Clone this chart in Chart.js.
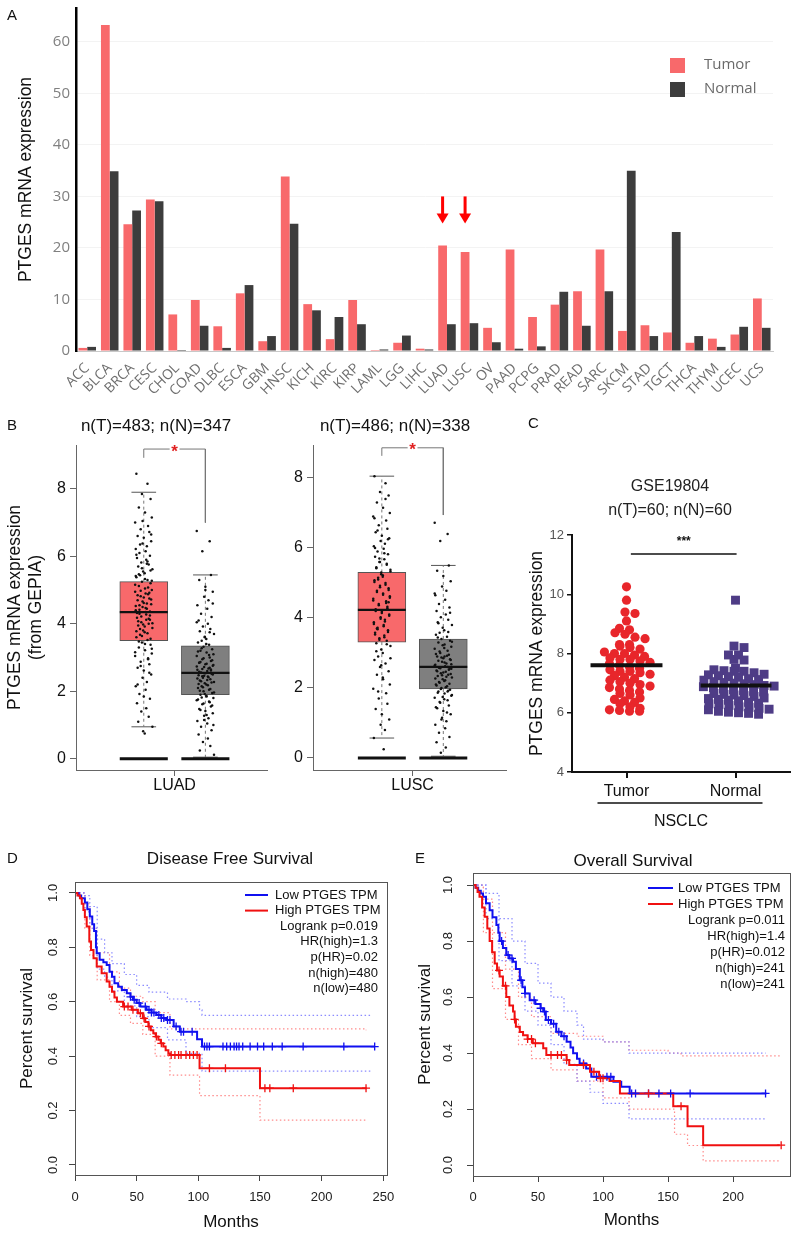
<!DOCTYPE html>
<html>
<head>
<meta charset="utf-8">
<title>PTGES expression</title>
<script src="https://cdn.jsdelivr.net/npm/chart.js@4.4.1/dist/chart.umd.min.js"></script>
<style>
  body { margin:0; width:800px; height:1235px; overflow:hidden; background:#fff; position:relative; font-family:"Liberation Sans", Arial, sans-serif; }
  canvas { position:absolute; }
  .tag { position:absolute; font-size:15px; color:#111; line-height:18px; }
</style>
</head>
<body>
<canvas id="chartA" width="800" height="410" style="left:0;top:0"></canvas>
<canvas id="chartB1" width="312" height="410" style="left:0;top:405px"></canvas>
<canvas id="chartB2" width="250" height="410" style="left:270px;top:405px"></canvas>
<canvas id="chartC" width="300" height="373" style="left:520px;top:462px"></canvas>
<canvas id="chartD" width="460" height="400" style="left:0;top:835px"></canvas>
<canvas id="chartE" width="446" height="400" style="left:410px;top:835px"></canvas>

<div class="tag" style="left:7px;top:6px">A</div>
<div class="tag" style="left:7px;top:416px">B</div>
<div class="tag" style="left:528px;top:414px">C</div>
<div class="tag" style="left:7px;top:849px">D</div>
<div class="tag" style="left:415px;top:849px">E</div>

<script>
// panel A - GEPIA bar plot
const cancers = ['ACC','BLCA','BRCA','CESC','CHOL','COAD','DLBC','ESCA','GBM','HNSC','KICH','KIRC','KIRP','LAML','LGG','LIHC','LUAD','LUSC','OV','PAAD','PCPG','PRAD','READ','SARC','SKCM','STAD','TGCT','THCA','THYM','UCEC','UCS'];
const tumorTPM  = [0.6,63.3,24.6,29.4,7.1,9.9,4.8,11.2,1.9,33.9,9.1,2.3,9.9,0.2,1.6,0.45,20.5,19.2,4.5,19.7,6.6,9.0,11.6,19.7,3.9,5.0,3.6,1.6,2.4,3.2,10.2];
const normalTPM = [0.8,34.9,27.3,29.1,0.2,4.9,0.6,12.8,2.9,24.7,7.9,6.6,5.2,0.3,3.0,0.3,5.2,5.4,1.7,0.45,0.9,11.5,4.9,11.6,35.0,2.9,23.1,2.9,0.8,4.7,4.5];
const yTicksA = [0,10,20,30,40,50,60];
const arrowCats = ['LUAD','LUSC'];

// panel B - boxplots (low whisker, Q1, median, Q3, high whisker)
const luadTumorBox  = [0.95, 3.5, 4.35, 5.25, 7.9];
const luadNormalBox = [0.05, 1.9, 2.55, 3.35, 5.45];
const luscTumorBox  = [0.57, 3.31, 4.23, 5.3, 8.05];
const luscNormalBox = [0.05, 1.97, 2.6, 3.4, 5.5];
const luadTumorPts = [8.45,8.15,7.85,7.7,7.45,7.3,7.15,7.0,6.9,6.8,6.72,6.6,6.55,6.45,6.38,6.3,6.22,6.15,6.1,6.02,5.95,5.9,5.82,5.76,5.7,5.62,5.55,5.5,5.44,5.38,5.3,5.25,5.2,5.12,5.05,5.0,4.95,4.88,4.82,4.75,4.7,4.62,4.58,4.5,4.45,4.4,4.35,4.3,4.25,4.18,4.12,4.05,4.0,3.95,3.88,3.8,3.75,3.68,3.6,3.52,3.45,3.38,3.3,3.22,3.12,3.05,2.95,2.88,2.8,2.7,2.62,2.5,2.4,2.28,2.15,2.05,1.92,1.78,1.65,1.5,1.4,1.25,1.1,0.95,0.82,0.75,
  6.35,6.05,5.85,5.65,5.58,5.47,5.33,5.28,5.16,5.08,4.98,4.92,4.85,4.78,4.72,4.66,4.6,4.53,4.47,4.42,4.37,4.32,4.28,4.22,4.15,4.08,4.02,3.98,3.92,3.85,3.78,3.72,3.64,3.56,3.48,3.4,3.26,3.16,2.98,2.75,2.55,2.2,1.85,6.65,7.05,5.78,5.42,4.9,4.55,4.12];
const luadNormalPts = [6.75,6.45,6.15,5.45,5.3,5.1,4.95,4.8,4.7,4.55,4.45,4.3,4.2,4.1,4.0,3.92,3.85,3.78,3.7,3.62,3.55,3.5,3.45,3.38,3.32,3.25,3.2,3.15,3.1,3.05,3.0,2.95,2.9,2.85,2.8,2.76,2.72,2.68,2.64,2.6,2.56,2.52,2.48,2.44,2.4,2.36,2.32,2.28,2.24,2.2,2.15,2.1,2.05,2.0,1.95,1.9,1.85,1.8,1.74,1.68,1.62,1.55,1.48,1.42,1.35,1.28,1.2,1.12,1.05,0.95,0.85,0.72,0.6,0.5,0.38,0.25,0.12,
  3.6,3.4,3.28,3.18,3.08,2.98,2.92,2.87,2.82,2.78,2.74,2.7,2.66,2.62,2.58,2.54,2.5,2.46,2.42,2.38,2.34,2.3,2.26,2.22,2.18,2.12,2.07,2.02,1.97,1.92,1.87,1.82,1.76,1.7,1.64,1.58,1.45,1.3,1.0,4.05,3.75,2.45,2.65,2.85,5.0,4.6,1.15];
const luscTumorPts = [8.05,7.85,7.6,7.5,7.3,7.15,7.0,6.9,6.78,6.65,6.55,6.45,6.35,6.28,6.2,6.12,6.05,5.98,5.9,5.82,5.75,5.68,5.6,5.52,5.45,5.38,5.3,5.22,5.15,5.08,5.0,4.92,4.85,4.78,4.7,4.62,4.55,4.48,4.4,4.32,4.25,4.18,4.1,4.02,3.95,3.88,3.8,3.72,3.65,3.58,3.5,3.42,3.35,3.28,3.2,3.1,3.0,2.9,2.8,2.7,2.6,2.48,2.38,2.25,2.1,1.98,1.85,1.7,1.55,1.4,1.25,1.1,0.95,0.8,0.57,0.25,
  6.5,6.25,6.0,5.85,5.7,5.55,5.42,5.33,5.25,5.18,5.1,5.03,4.95,4.88,4.8,4.74,4.66,4.58,4.5,4.43,4.36,4.28,4.2,4.14,4.06,3.98,3.9,3.83,3.76,3.68,3.6,3.53,3.45,3.38,3.25,3.05,2.85,2.65,2.3,1.9,6.85,7.4,5.6,4.45,3.7];
const luscNormalPts = [6.72,6.4,6.2,5.5,5.35,5.2,5.05,4.9,4.78,4.65,4.52,4.4,4.3,4.2,4.1,4.02,3.95,3.88,3.8,3.72,3.65,3.58,3.52,3.46,3.4,3.35,3.3,3.24,3.18,3.12,3.06,3.0,2.95,2.9,2.85,2.8,2.75,2.7,2.66,2.62,2.58,2.54,2.5,2.46,2.42,2.38,2.34,2.3,2.25,2.2,2.15,2.1,2.05,2.0,1.95,1.9,1.84,1.78,1.72,1.65,1.58,1.5,1.42,1.34,1.25,1.15,1.05,0.95,0.85,0.72,0.6,0.45,0.3,0.15,
  3.6,3.44,3.32,3.22,3.14,3.04,2.97,2.92,2.87,2.82,2.78,2.73,2.68,2.64,2.6,2.56,2.52,2.48,2.44,2.4,2.36,2.32,2.27,2.22,2.17,2.12,2.07,2.02,1.97,1.92,1.86,1.8,1.74,1.68,1.6,1.45,1.3,1.1,4.15,3.85,2.9,2.55,4.7,1.9];
const gepiaZero = 0;
const bTicks = [0,2,4,6,8];
const jitterB = [-0.12,0.06,-0.03,0.11,-0.08,0.02,0.13,-0.14,0.07,-0.05,0.09,-0.10,0.00,0.12,-0.02,0.05,-0.13,0.03,-0.07,0.10,-0.11,0.04,-0.04,0.08,-0.09,0.14,-0.01,0.015,-0.06];

// panel C - GSE19804
const cGroups = ['Tumor','Normal'];
const cTumor = [10.25,9.8,9.4,9.35,9.1,8.85,8.8,8.7,8.65,8.55,8.5,8.3,8.3,8.25,8.2,8.15,8.05,8.0,8.0,7.95,7.9,7.85,7.8,7.8,7.75,7.7,7.65,7.6,7.55,7.5,7.45,7.4,7.4,7.35,7.3,7.25,7.2,7.15,7.1,7.05,7.0,6.95,6.9,6.85,6.8,6.75,6.7,6.65,6.6,6.5,6.45,6.4,6.35,6.3,6.2,6.15,6.1,6.08,6.05,6.05];
const cNormal = [9.8,8.25,8.2,7.95,7.95,7.8,7.78,7.5,7.45,7.42,7.4,7.4,7.35,7.3,7.28,7.25,7.22,7.2,7.15,7.12,7.1,7.05,7.02,7.0,6.98,6.95,6.92,6.9,6.88,6.85,6.8,6.78,6.75,6.72,6.7,6.65,6.62,6.6,6.58,6.55,6.5,6.48,6.45,6.42,6.4,6.35,6.32,6.3,6.28,6.25,6.2,6.18,6.15,6.12,6.1,6.05,6.02,6.0,5.98,5.95];
const cMeans = [7.6, 6.92];
const cTicks = [4,6,8,10,12];
const cSig = [1.04, 2.01, 11.36];

// panels D/E - Kaplan-Meier (month, survival)
const kmGroups = ['Low PTGES TPM','High PTGES TPM'];
const dfsLow = [[0,1],[3,0.99],[5,0.98],[8,0.965],[10,0.94],[12,0.913],[14,0.885],[15.5,0.86],[17,0.8],[17.6,0.778],[20,0.754],[23,0.745],[25.7,0.735],[28,0.71],[30,0.692],[32,0.668],[35,0.655],[38,0.643],[42,0.631],[45,0.618],[47,0.607],[50,0.595],[53,0.582],[58,0.57],[62,0.56],[66,0.551],[70,0.54],[74,0.533],[80,0.509],[85,0.49],[99,0.462],[103,0.435],[243,0.435]];
const dfsHigh = [[0,1],[2,0.99],[4,0.98],[5.5,0.96],[6.8,0.937],[8,0.91],[9.5,0.876],[11.6,0.821],[13,0.79],[15,0.76],[17.6,0.729],[21.6,0.705],[25.7,0.674],[28,0.655],[30,0.637],[32,0.615],[34,0.6],[39,0.582],[46,0.57],[51,0.558],[55,0.539],[57,0.525],[59.5,0.509],[61.5,0.495],[63.5,0.484],[65.5,0.472],[67.6,0.46],[69.5,0.447],[71.6,0.435],[73.5,0.422],[75.7,0.41],[77,0.404],[101,0.355],[150,0.282],[236.5,0.282]];
const dfsLowUp = [[0,1],[8,0.99],[12,0.95],[18,0.83],[24,0.78],[30,0.74],[40,0.7],[50,0.66],[60,0.635],[75,0.61],[90,0.6],[101,0.57],[103,0.55],[240,0.55]];
const dfsLowLo = [[0,1],[8,0.93],[12,0.87],[18,0.72],[24,0.69],[30,0.64],[40,0.585],[50,0.545],[60,0.505],[75,0.46],[90,0.41],[103,0.345],[240,0.345]];
const dfsHighUp = [[0,1],[8,0.96],[12,0.87],[18,0.78],[28,0.71],[36,0.65],[45,0.62],[55,0.6],[65,0.56],[77,0.5],[236,0.495]];
const dfsHighLo = [[0,1],[8,0.87],[12,0.77],[18,0.68],[28,0.6],[36,0.55],[45,0.52],[55,0.48],[65,0.4],[77,0.33],[101,0.255],[150,0.165],[236,0.165]];
const dfsLowCens = [45,48,52,57,60,62,64,68,70,72,75,77,82,86,88,95,105,107,109,120,123,126,129,131,133,136,142,148,153,160,168,185,218,243];
const dfsHighCens = [40,43,47,53,56,60,66,70,78,81,84,86,90,93,96,99,109,122,154,158,177,236];
const dfsStats = ['Logrank p=0.019','HR(high)=1.3','p(HR)=0.02','n(high)=480','n(low)=480'];

const osLow = [[0,1],[2,0.99],[4,0.98],[6,0.97],[7.7,0.958],[10,0.935],[12.8,0.91],[15,0.885],[18,0.857],[19.5,0.83],[20.5,0.80],[23,0.775],[25.6,0.75],[28,0.738],[30.8,0.726],[33,0.70],[36,0.66],[38,0.635],[40,0.613],[43.6,0.589],[48,0.575],[52,0.56],[54,0.548],[56,0.518],[60,0.505],[64,0.476],[68,0.46],[72,0.44],[75,0.42],[77,0.399],[80,0.38],[82,0.363],[87,0.345],[91,0.315],[108,0.298],[114,0.28],[120.5,0.256],[225.6,0.256]];
const osHigh = [[0,1],[2,0.99],[3.5,0.975],[5,0.958],[7,0.92],[9,0.887],[11,0.845],[12.8,0.80],[14.7,0.76],[16.7,0.72],[18.5,0.695],[20.5,0.673],[23,0.64],[25.6,0.60],[28,0.57],[30.8,0.548],[32,0.52],[33,0.494],[36,0.475],[38.5,0.464],[42,0.45],[46,0.435],[54,0.417],[56.4,0.393],[72,0.375],[74,0.357],[90,0.333],[97,0.31],[105,0.3],[113,0.256],[154,0.21],[165,0.139],[177,0.071],[236,0.071]];
const osLowUp = [[0,1],[10,0.97],[20,0.88],[30,0.8],[40,0.72],[50,0.65],[60,0.6],[70,0.55],[80,0.5],[85,0.45],[100,0.44],[120,0.4],[225,0.4]];
const osLowLo = [[0,1],[10,0.88],[20,0.73],[30,0.64],[40,0.55],[50,0.5],[60,0.43],[70,0.36],[80,0.3],[90,0.26],[100,0.22],[120,0.165],[225,0.165]];
const osHighUp = [[0,1],[8,0.95],[15,0.83],[25,0.7],[35,0.6],[45,0.53],[60,0.47],[80,0.46],[100,0.44],[120,0.41],[150,0.4],[160,0.39],[236,0.39]];
const osHighLo = [[0,1],[8,0.83],[15,0.63],[25,0.52],[35,0.43],[45,0.38],[60,0.34],[80,0.3],[100,0.24],[120,0.2],[153,0.2],[155,0.11],[165,0.07],[177,0.015],[236,0.015]];
const osLowCens = [22,27,30,37,40,47,52,55,58,62,66,70,85,95,103,106,122,125,135,143,152,167,225];
const osHighCens = [20,25,32,42,45,48,60,65,68,72,85,93,98,100,135,160,237];
const osStats = ['Logrank p=0.011','HR(high)=1.4','p(HR)=0.012','n(high)=241','n(low)=241'];
const kmTicks = [0,0.2,0.4,0.6,0.8,1.0];

Chart.defaults.font.family = '"Liberation Sans", Arial, sans-serif';
Chart.defaults.color = '#222';
Chart.defaults.animation = false;
Chart.defaults.responsive = false;
Chart.defaults.plugins.legend.display = false;
Chart.defaults.plugins.tooltip.enabled = false;

// fixes the size of an axis box so the plot area lands where it should
function fit(w, h) {
  return s => {
    if (w != null) s.width = w;
    if (h != null) s.height = h;
    s.paddingTop = s.paddingBottom = s.paddingLeft = s.paddingRight = 0;
  };
}
const ticksAt = arr => s => { s.ticks = arr.map(v => ({ value: v })); };
const dummyRight = w => ({ position: 'right', display: true, grid: { display: false }, ticks: { display: false }, border: { display: false }, afterFit: fit(w) });

// ---------- A ----------
const legendA = {
  id: 'legendA',
  afterDraw(chart) {
    const ctx = chart.ctx;
    ctx.save();
    ctx.font = '15px "Open Sans", sans-serif';
    ctx.textBaseline = 'middle';
    chart.data.datasets.forEach((ds, i) => {
      const y = 65 + i * 24;
      ctx.fillStyle = ds.backgroundColor;
      ctx.fillRect(670, y - 7, 15, 15);
      ctx.fillStyle = '#6a6a6a';
      ctx.fillText(ds.label, 704, y);
    });
    ctx.restore();
  }
};
const arrowsA = {
  id: 'arrowsA',
  afterDatasetsDraw(chart) {
    const ctx = chart.ctx, meta = chart.getDatasetMeta(0);
    const bars = arrowCats.map(c => meta.data[cancers.indexOf(c)]);
    const tip = Math.min(...bars.map(b => b.y)) - 22;
    ctx.save();
    ctx.fillStyle = '#ff0000';
    bars.forEach(b => {
      ctx.fillRect(b.x - 1.5, tip - 27, 3, 18);
      ctx.beginPath();
      ctx.moveTo(b.x - 6, tip - 10);
      ctx.lineTo(b.x + 6, tip - 10);
      ctx.lineTo(b.x, tip);
      ctx.closePath();
      ctx.fill();
    });
    ctx.restore();
  }
};

new Chart(document.getElementById('chartA'), {
  type: 'bar',
  data: {
    labels: cancers,
    datasets: [
      { label: 'Tumor', data: tumorTPM, backgroundColor: '#f8696b', categoryPercentage: 0.78, barPercentage: 1 },
      { label: 'Normal', data: normalTPM, backgroundColor: '#3d3d3d', categoryPercentage: 0.78, barPercentage: 1 }
    ]
  },
  options: {
    layout: { padding: { top: 8, right: 27, left: 0, bottom: 0 } },
    scales: {
      x: {
        grid: { display: false },
        border: { color: '#c8c8c8' },
        ticks: { color: '#6e6e6e', font: { size: 14, family: '"Open Sans", sans-serif' }, minRotation: 45, maxRotation: 45, autoSkip: false, padding: 1 },
        afterFit: fit(null, 59)
      },
      y: {
        min: 0, max: 66.6,
        afterBuildTicks: ticksAt(yTicksA),
        grid: { color: '#f3f3f3', drawTicks: false },
        border: { color: '#000', width: 2.5 },
        ticks: { color: '#808080', font: { size: 15, family: '"Open Sans", sans-serif' }, padding: 6 },
        title: { display: true, text: 'PTGES mRNA expression', color: '#111', font: { size: 17.5 }, padding: { top: 16, bottom: 0 } },
        afterFit: fit(76)
      }
    }
  },
  plugins: [legendA, arrowsA]
});

// ---------- B ----------
function boxChart(id, o) {
  const pos = [1, 2], half = 0.39, cap = 0.2;
  const boxes = [o.tumor, o.normal];
  const segs = f => boxes.flatMap((b, i) => f(b, pos[i]).concat([{ x: pos[i], y: null }]));
  const pts = [o.tumorPts, o.normalPts].flatMap((arr, i) =>
    arr.map((v, j) => ({ x: pos[i] + jitterB[(j + i * 7) % jitterB.length], y: v })));
  const s = o.sig; // [top, left leg end, right leg end]
  const star = {
    id: 'star' + id,
    afterDatasetsDraw(chart) {
      const { ctx, scales } = chart;
      ctx.save();
      ctx.fillStyle = '#e02020';
      ctx.font = 'bold 17px "Liberation Sans", Arial';
      ctx.textAlign = 'center';
      ctx.textBaseline = 'middle';
      ctx.fillText('*', scales.x.getPixelForValue(1.5), scales.y.getPixelForValue(s[0]) + 3);
      ctx.restore();
    }
  };
  const line = (data, color, width, order, dash) => ({
    type: 'line', data, borderColor: color, borderWidth: width, pointRadius: 0, borderDash: dash || [], spanGaps: false, order
  });
  new Chart(document.getElementById(id), {
    type: 'scatter',
    data: {
      datasets: [
        { type: 'bar', data: boxes.map((b, i) => ({ x: pos[i], y: [b[1], b[3]] })), backgroundColor: ['#f8696b', '#7f7f7f'],
          borderColor: '#555', borderWidth: 1, borderSkipped: false, barThickness: 48, order: 6 },
        line(segs((b, x) => [{ x, y: b[3] }, { x, y: b[4] }, { x, y: null }, { x, y: b[1] }, { x, y: b[0] }]), '#777', 1, 5, [3, 3]),
        line(segs((b, x) => [{ x: x - cap, y: b[4] }, { x: x + cap, y: b[4] }, { x, y: null }, { x: x - cap, y: b[0] }, { x: x + cap, y: b[0] }]), '#555', 1, 5),
        { type: 'scatter', data: pts, pointRadius: 1.25, backgroundColor: '#111', borderWidth: 0, order: 3 },
        line(segs((b, x) => [{ x: x - half, y: b[2] }, { x: x + half, y: b[2] }]), '#111', 2.2, 1),
        line(segs((b, x) => [{ x: x - half, y: gepiaZero }, { x: x + half, y: gepiaZero }]), '#111', 3, 1),
        line([{ x: 1, y: s[1] }, { x: 1, y: s[0] }, { x: 1.42, y: s[0] }, { x: 1.5, y: null }, { x: 1.58, y: s[0] }, { x: 2, y: s[0] }, { x: 2, y: s[2] }], '#777', 1, 1)
      ]
    },
    options: {
      layout: { padding: 0 },
      plugins: {
        title: { display: true, text: o.title, color: '#111', font: { size: 17, weight: 'normal' }, padding: { top: 11, bottom: 8.6 } }
      },
      scales: {
        x: {
          type: 'linear', min: o.xr[0], max: o.xr[1], offset: false,
          afterBuildTicks: ticksAt([1.5]),
          grid: { drawOnChartArea: false, tickLength: 6, color: '#666', offset: false },
          border: { color: '#666' },
          ticks: { callback: () => o.gene, font: { size: 16 }, color: '#111', padding: 0 },
          afterFit: fit(null, 45)
        },
        y: {
          min: o.yr[0], max: o.yr[1],
          afterBuildTicks: ticksAt(bTicks),
          grid: { drawOnChartArea: false, tickLength: 6, color: '#666' },
          border: { color: '#666' },
          ticks: { font: { size: 16 }, color: '#111', padding: 4 },
          title: { display: !!o.ytitle, text: o.ytitle, color: '#111', font: { size: 17.5 }, padding: { top: 4.5, bottom: 0 } },
          afterFit: fit(o.yw)
        },
        yR: dummyRight(o.rw)
      }
    },
    plugins: [star]
  });
}

boxChart('chartB1', {
  title: 'n(T)=483; n(N)=347', gene: 'LUAD', ytitle: ['PTGES mRNA expression', '(from GEPIA)'],
  tumor: luadTumorBox, normal: luadNormalBox, tumorPts: luadTumorPts, normalPts: luadNormalPts,
  sig: [9.18, 8.92, 7.0], xr: [-0.1, 3.0], yr: [-0.33, 9.3], yw: 76, rw: 45
});
boxChart('chartB2', {
  title: 'n(T)=486; n(N)=338', gene: 'LUSC', ytitle: '',
  tumor: luscTumorBox, normal: luscNormalBox, tumorPts: luscTumorPts, normalPts: luscNormalPts,
  sig: [8.86, 8.63, 6.94], xr: [-0.12, 3.02], yr: [-0.343, 8.94], yw: 43, rw: 14
});

// ---------- C ----------
// column scatter: points sharing a value band are spread sideways
function swarm(vals, center, bin, step) {
  const counts = {}, seen = {};
  vals.forEach(v => { const k = Math.round(v / bin); counts[k] = (counts[k] || 0) + 1; });
  return vals.map(v => {
    const k = Math.round(v / bin);
    const i = seen[k] = (seen[k] || 0) + 1;
    const nudge = (k % 2) ? step * 0.35 : -step * 0.2;
    return { x: center + (i - 1 - (counts[k] - 1) / 2) * step + (counts[k] > 1 ? nudge : 0), y: v };
  });
}
const cDeco = {
  id: 'cDeco',
  afterDatasetsDraw(chart) {
    const { ctx, scales: { x, y }, chartArea } = chart;
    ctx.save();
    ctx.fillStyle = '#111';
    ctx.font = 'bold 12px "Liberation Sans", Arial';
    ctx.textAlign = 'center';
    ctx.textBaseline = 'middle';
    ctx.fillText('***', x.getPixelForValue((cSig[0] + cSig[1]) / 2), y.getPixelForValue(cSig[2]) - 12);
    ctx.strokeStyle = '#111';
    ctx.lineWidth = 1.5;
    const uy = chartArea.bottom + 31;
    ctx.beginPath();
    ctx.moveTo(x.getPixelForValue(1) - 29, uy);
    ctx.lineTo(x.getPixelForValue(2) + 27, uy);
    ctx.stroke();
    ctx.restore();
  }
};
new Chart(document.getElementById('chartC'), {
  type: 'scatter',
  data: {
    datasets: [
      { data: swarm(cTumor, 1, 0.2, 0.092), pointStyle: 'circle', pointRadius: 4.6, backgroundColor: '#e8262b', borderColor: '#e8262b', borderWidth: 0, order: 3 },
      { data: swarm(cNormal, 2, 0.2, 0.092), pointStyle: 'rect', pointRadius: 6.3, backgroundColor: '#4e3c86', borderColor: '#4e3c86', borderWidth: 0, order: 3 },
      { type: 'line', data: [{ x: 0.67, y: cMeans[0] }, { x: 1.33, y: cMeans[0] }, { x: 1.5, y: null }, { x: 1.68, y: cMeans[1] }, { x: 2.33, y: cMeans[1] }],
        borderColor: '#111', borderWidth: 4, pointRadius: 0, spanGaps: false, order: 1 },
      { type: 'line', data: [{ x: cSig[0], y: cSig[2] }, { x: cSig[1], y: cSig[2] }], borderColor: '#111', borderWidth: 1.5, pointRadius: 0, order: 1 }
    ]
  },
  options: {
    layout: { padding: 0 },
    plugins: {
      title: { display: true, text: ['GSE19804', 'n(T)=60; n(N)=60'], color: '#222', font: { size: 16, weight: 'normal', lineHeight: 1.5 }, padding: { top: 13, bottom: 12 } }
    },
    scales: {
      x: {
        min: 0.5, max: 2.5,
        afterBuildTicks: ticksAt([1, 2]),
        grid: { drawOnChartArea: false, tickLength: 6, color: '#111', lineWidth: 2 },
        border: { color: '#111', width: 2 },
        ticks: { callback: (v, i) => cGroups[i], font: { size: 16 }, color: '#111', padding: 4 },
        title: { display: true, text: 'NSCLC', color: '#111', font: { size: 16 }, padding: { top: 0, bottom: 3.4 } },
        afterFit: fit(null, 63)
      },
      y: {
        min: 4, max: 12,
        afterBuildTicks: ticksAt(cTicks),
        grid: { drawOnChartArea: false, tickLength: 5, color: '#111', lineWidth: 1.5 },
        border: { color: '#111', width: 2 },
        ticks: { font: { size: 13 }, color: '#555', padding: 3 },
        title: { display: true, text: 'PTGES mRNA expression', color: '#111', font: { size: 17.5 }, padding: { top: 6.5, bottom: 0 } },
        afterFit: fit(52)
      },
      yR: dummyRight(30)
    }
  },
  plugins: [cDeco]
});

// ---------- D / E ----------
function stepAt(curve, t) {
  let s = curve[0][1];
  for (const p of curve) { if (p[0] <= t) s = p[1]; }
  return s;
}
const kmDeco = {
  id: 'kmDeco',
  afterDraw(chart, args, o) {
    const { ctx, chartArea: a } = chart;
    ctx.save();
    ctx.strokeStyle = '#555';
    ctx.lineWidth = 1;
    ctx.strokeRect(a.left + 0.5, a.top + 0.5, a.right - a.left, a.bottom - a.top);
    ctx.font = '13px "Liberation Sans", Arial';
    ctx.textBaseline = 'middle';
    kmGroups.forEach((g, i) => {
      const y = a.top + o.y0 + i * o.dy;
      ctx.strokeStyle = i ? '#f01010' : '#1010f0';
      ctx.lineWidth = 2;
      ctx.beginPath();
      ctx.moveTo(a.right - 142, y);
      ctx.lineTo(a.right - o.lx, y);
      ctx.stroke();
      ctx.fillStyle = '#111';
      ctx.textAlign = 'left';
      ctx.fillText(g, a.right - 112, y);
    });
    ctx.textAlign = 'right';
    o.stats.forEach((t, i) => ctx.fillText(t, a.right - o.rx, a.top + o.y0 + (i + 2) * o.dy));
    ctx.restore();
  }
};
function kmChart(id, o) {
  const pts = c => c.map(p => ({ x: p[0], y: p[1] }));
  const step = (c, color, w, dash, order) => ({ type: 'line', data: pts(c), stepped: true, borderColor: color, borderWidth: w, borderDash: dash || [], pointRadius: 0, order });
  const cens = (times, c, color) => ({ type: 'scatter', data: times.map(t => ({ x: t, y: stepAt(c, t) })), pointStyle: 'cross', pointRadius: 4, borderColor: color, borderWidth: 1.3, order: 1 });
  new Chart(document.getElementById(id), {
    type: 'scatter',
    data: {
      datasets: [
        step(o.lowUp, '#8c8cff', 1.2, [1.5, 2.5], 4),
        step(o.lowLo, '#8c8cff', 1.2, [1.5, 2.5], 4),
        step(o.highUp, '#ff8c8c', 1.2, [1.5, 2.5], 4),
        step(o.highLo, '#ff8c8c', 1.2, [1.5, 2.5], 4),
        step(o.high, '#f01010', 2, null, 2),
        step(o.low, '#1010f0', 2, null, 2),
        cens(o.highCens, o.high, '#f01010'),
        cens(o.lowCens, o.low, '#1010f0')
      ]
    },
    options: {
      layout: { padding: 0 },
      plugins: {
        title: { display: true, text: o.title, color: '#111', font: { size: 17, weight: 'normal' }, padding: o.tpad },
        kmDeco: o.leg
      },
      scales: {
        x: {
          min: 0, max: o.xmax,
          afterBuildTicks: ticksAt(o.xticks),
          grid: { drawOnChartArea: false, tickLength: 6, color: '#444' },
          border: { display: false },
          ticks: { font: { size: 13 }, color: '#222', padding: o.xpad },
          title: { display: true, text: 'Months', color: '#111', font: { size: 17 }, padding: { top: 0, bottom: o.mpad } },
          afterFit: fit(null, o.xh)
        },
        y: {
          min: o.yr[0], max: o.yr[1],
          afterBuildTicks: ticksAt(kmTicks),
          grid: { drawOnChartArea: false, tickLength: 6, color: '#444' },
          border: { display: false },
          ticks: { font: { size: 13 }, color: '#222', minRotation: 90, maxRotation: 90, crossAlign: 'center', padding: o.ypad, callback: v => v.toFixed(1) },
          title: { display: true, text: 'Percent survival', color: '#111', font: { size: 17 }, padding: { top: o.ytpad, bottom: 0 } },
          afterFit: fit(o.yw)
        },
        yR: dummyRight(o.rw)
      }
    },
    plugins: [kmDeco]
  });
}

kmChart('chartD', {
  title: 'Disease Free Survival', low: dfsLow, high: dfsHigh, lowUp: dfsLowUp, lowLo: dfsLowLo, highUp: dfsHighUp, highLo: dfsHighLo,
  lowCens: dfsLowCens, highCens: dfsHighCens,
  leg: { stats: dfsStats, y0: 13, dy: 15.6, lx: 119, rx: 9 },
  tpad: { top: 13.8, bottom: 12.8 }, xmax: 253, xticks: [0, 50, 100, 150, 200, 250], xpad: 9, mpad: 2.8, xh: 60,
  yr: [-0.037, 1.04], ypad: 7, ytpad: 16.8, yw: 75, rw: 73
});
kmChart('chartE', {
  title: 'Overall Survival', low: osLow, high: osHigh, lowUp: osLowUp, lowLo: osLowLo, highUp: osHighUp, highLo: osHighLo,
  lowCens: osLowCens, highCens: osHighCens,
  leg: { stats: osStats, y0: 15, dy: 16, lx: 117, rx: 5 },
  tpad: { top: 15.8, bottom: 1.8 }, xmax: 243.8, xticks: [0, 50, 100, 150, 200], xpad: 8, mpad: 4.8, xh: 59,
  yr: [-0.039, 1.043], ypad: 10, ytpad: 4.8, yw: 63, rw: 66
});
</script>
</body>
</html>
